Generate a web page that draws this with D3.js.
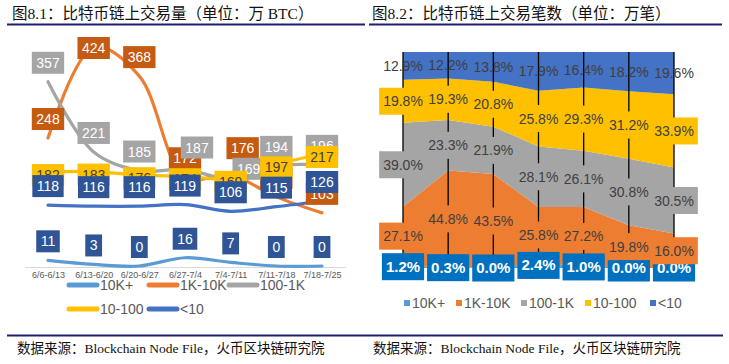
<!DOCTYPE html>
<html>
<head>
<meta charset="utf-8">
<script src="https://cdn.jsdelivr.net/npm/d3@7"></script>
<style>
  body { margin: 0; background: #fff; }
  svg { display: block; }
</style>
</head>
<body>
<div id="chart"></div>
<script>
// weekly on-chain volume (万 BTC) and tx-count share (%)
let weeks = ['6/6-6/13', '6/13-6/20', '6/20-6/27', '6/27-7/4', '7/4-7/11', '7/11-7/18', '7/18-7/25']
let seriesNames = ['10K+', '1K-10K', '100-1K', '10-100', '<10']

let volume10kPlus = [11, 3, 0, 16, 7, 0, 0]
let volume1kTo10k = [248, 424, 368, 172, 176, 134, 103]
let volume100To1k = [357, 221, 185, 187, 169, 194, 196]
let volume10To100 = [182, 183, 176, 174, 169, 197, 217]
let volumeUnder10 = [118, 116, 116, 119, 106, 115, 126]

let share10kPlus = [1.2, 0.3, 0.0, 2.4, 1.0, 0.0, 0.0]
let share1kTo10k = [27.1, 44.8, 43.5, 25.8, 27.2, 19.8, 16.0]
let share100To1k = [39.0, 23.3, 21.9, 28.1, 26.1, 30.8, 30.5]
let share10To100 = [19.8, 19.3, 20.8, 25.8, 29.3, 31.2, 33.9]
let shareUnder10 = [12.9, 12.2, 13.8, 17.9, 16.4, 18.2, 19.6]

let lineColors = {
  '10K+': '#5B9BD5',
  '1K-10K': '#ED7D31',
  '100-1K': '#A5A5A5',
  '10-100': '#FFC000',
  '<10': '#4472C4'
}
let labelFills = {
  '10K+': '#2F5597',
  '1K-10K': '#C55A11',
  '100-1K': '#A5A5A5',
  '10-100': '#FFC000',
  '<10': '#2F5597'
}

let svg = d3
  .select('#chart')
  .append('svg')
  .attr('width', 729)
  .attr('height', 364)

svg.append('rect').attr('width', 729).attr('height', 364).attr('fill', '#fff')

// headers + footers
let titles = [
  { x: 12, text: '图8.1：比特币链上交易量（单位：万 BTC）', x1: 7, x2: 365 },
  { x: 372, text: '图8.2：比特币链上交易笔数（单位：万笔）', x1: 369, x2: 722 }
]
titles.forEach(t => {
  svg
    .append('text')
    .attr('x', t.x)
    .attr('y', 19)
    .attr('font-size', 15.5)
    .attr('font-family', '"Liberation Serif", "Noto Sans CJK SC", serif')
    .attr('fill', '#111')
    .text(t.text)
  svg
    .append('line')
    .attr('x1', t.x1)
    .attr('x2', t.x2)
    .attr('y1', 24.5)
    .attr('y2', 24.5)
    .attr('stroke', '#1F1F6E')
    .attr('stroke-width', 2.2)
})

svg
  .append('line')
  .attr('x1', 7)
  .attr('x2', 723)
  .attr('y1', 335.5)
  .attr('y2', 335.5)
  .attr('stroke', '#1F1F6E')
  .attr('stroke-width', 2.2)

;[17, 373].forEach(x => {
  svg
    .append('text')
    .attr('x', x)
    .attr('y', 353)
    .attr('font-size', 13.5)
    .attr('font-family', '"Liberation Serif", "Noto Sans CJK SC", serif')
    .attr('fill', '#111')
    .text('数据来源：Blockchain Node File，火币区块链研究院')
})

// ---------- left: volume lines ----------
let volumes = [volume10kPlus, volume1kTo10k, volume100To1k, volume10To100, volumeUnder10]
let lineData = seriesNames.map((name, i) => ({
  key: name,
  values: volumes[i].map((v, j) => ({ week: weeks[j], value: v }))
}))

let xPositionScale = d3.scalePoint().domain(weeks).range([48, 322])
let yPositionScale = d3.scaleLinear().domain([0, 500]).range([266, 8])
let plotTop = 37

let line = d3
  .line()
  .x(d => xPositionScale(d.week))
  .y(d => yPositionScale(d.value))
  .curve(d3.curveCatmullRom.alpha(0.5))

let left = svg.append('g')

left
  .append('line')
  .attr('x1', 25)
  .attr('x2', 346)
  .attr('y1', 267.5)
  .attr('y2', 267.5)
  .attr('stroke', '#D9D9D9')

let xAxis = d3.axisBottom(xPositionScale).tickSize(0).tickPadding(4)
left
  .append('g')
  .attr('class', 'axis x-axis')
  .attr('transform', 'translate(0,268)')
  .call(xAxis)
  .call(g => g.select('.domain').remove())
  .selectAll('text')
  .attr('font-size', 9)
  .attr('font-family', '"Liberation Sans", sans-serif')
  .attr('fill', '#595959')

left
  .selectAll('.volume-line')
  .data(lineData)
  .enter()
  .append('path')
  .attr('class', 'volume-line')
  .attr('d', d => line(d.values))
  .attr('fill', 'none')
  .attr('stroke', d => lineColors[d.key])
  .attr('stroke-width', 3.2)
  .attr('stroke-linecap', 'round')

// a few labels were dragged by hand in the original
let labelNudge = { '1K-10K|7/4-7/11': [12, -8], '100-1K|6/27-7/4': [12, -3], '100-1K|7/4-7/11': [18, 9] }

lineData.forEach(s => {
  s.values.forEach(d => {
    let g = left.append('g')
    let px = xPositionScale(d.week)
    let py = yPositionScale(d.value)
    let txt = g
      .append('text')
      .attr('font-size', 14)
      .attr('font-family', '"Liberation Sans", sans-serif')
      .attr('text-anchor', 'middle')
      .attr('fill', s.key === '10-100' ? '#404040' : '#fff')
      .text(d.value)
    let w = txt.node().getComputedTextLength() + 9
    let h = 22
    let cy
    if (s.key === '10-100') {
      cy = py + 3
    } else {
      cy = Math.max(py - 8 - h / 2, plotTop + h / 2)
    }
    let nudge = labelNudge[s.key + '|' + d.week] || [0, 0]
    let cx = px + nudge[0]
    cy = cy + nudge[1]
    g.insert('rect', 'text')
      .attr('x', cx - w / 2)
      .attr('y', cy - h / 2)
      .attr('width', w)
      .attr('height', h)
      .attr('fill', labelFills[s.key])
    txt.attr('x', cx).attr('y', cy + 5)
  })
})

let leftLegend = [
  { key: '10K+', x: 67, y: 285 },
  { key: '1K-10K', x: 147, y: 285 },
  { key: '100-1K', x: 227, y: 285 },
  { key: '10-100', x: 67, y: 309 },
  { key: '<10', x: 147, y: 309 }
]
leftLegend.forEach(d => {
  left
    .append('line')
    .attr('x1', d.x + 2)
    .attr('x2', d.x + 30)
    .attr('y1', d.y)
    .attr('y2', d.y)
    .attr('stroke', lineColors[d.key])
    .attr('stroke-width', 5)
    .attr('stroke-linecap', 'round')
  left
    .append('text')
    .attr('x', d.x + 33)
    .attr('y', d.y + 5)
    .attr('font-size', 14)
    .attr('font-family', '"Liberation Sans", sans-serif')
    .attr('fill', '#595959')
    .text(d.key)
})

// ---------- right: 100% stacked area ----------
let shares = [share10kPlus, share1kTo10k, share100To1k, share10To100, shareUnder10]
let rows = weeks.map((w, j) => {
  let row = { week: w }
  seriesNames.forEach((name, i) => {
    row[name] = shares[i][j]
  })
  return row
})

let stacked = d3
  .stack()
  .keys(seriesNames)
  .offset(d3.stackOffsetExpand)(rows)

let x2 = d3.scalePoint().domain(weeks).range([403, 674])
let y2 = d3.scaleLinear().domain([0, 1]).range([268, 52])

let area = d3
  .area()
  .x(d => x2(d.data.week))
  .y0(d => y2(d[0]))
  .y1(d => y2(d[1]))

let right = svg.append('g')

right
  .append('g')
  .attr('class', 'axis x-axis')
  .attr('transform', 'translate(0,269)')
  .call(d3.axisBottom(x2).tickSize(0).tickPadding(4))
  .call(g => g.select('.domain').remove())
  .selectAll('text')
  .attr('font-size', 9)
  .attr('font-family', '"Liberation Sans", sans-serif')
  .attr('fill', '#595959')

right
  .selectAll('.share-area')
  .data(stacked)
  .enter()
  .append('path')
  .attr('class', 'share-area')
  .attr('d', area)
  .attr('fill', d => lineColors[d.key])

right
  .selectAll('.drop-line')
  .data(weeks)
  .enter()
  .append('line')
  .attr('class', 'drop-line')
  .attr('x1', d => x2(d))
  .attr('x2', d => x2(d))
  .attr('y1', y2(1))
  .attr('y2', y2(0))
  .attr('stroke', '#000')
  .attr('stroke-width', 1.3)

stacked.forEach(layer => {
  layer.forEach((d, j) => {
    let key = layer.key
    let g = right.append('g')
    let cx = x2(d.data.week)
    let cy = y2((d[0] + d[1]) / 2)
    let big = key === '10K+'
    let txt = g
      .append('text')
      .attr('x', cx)
      .attr('y', cy + 5)
      .attr('text-anchor', 'middle')
      .attr('font-size', big ? 15 : 14)
      .attr('font-weight', big ? 'bold' : 'normal')
      .attr('font-family', '"Liberation Sans", sans-serif')
      .attr('fill', big ? '#fff' : '#404040')
      .text(d.data[key].toFixed(1) + '%')
    if (key !== '<10') {
      let w = txt.node().getComputedTextLength() + 8
      g.insert('rect', 'text')
        .attr('x', cx - w / 2)
        .attr('y', cy - 13.5)
        .attr('width', w)
        .attr('height', 27)
        .attr('fill', big ? '#0070C0' : lineColors[key])
    }
  })
})

let rightLegend = [
  { key: '10K+', x: 404 },
  { key: '1K-10K', x: 456 },
  { key: '100-1K', x: 521 },
  { key: '10-100', x: 585 },
  { key: '<10', x: 650 }
]
rightLegend.forEach(d => {
  right
    .append('rect')
    .attr('x', d.x)
    .attr('y', 300)
    .attr('width', 6)
    .attr('height', 6)
    .attr('fill', lineColors[d.key])
  right
    .append('text')
    .attr('x', d.x + 8)
    .attr('y', 308)
    .attr('font-size', 14)
    .attr('font-family', '"Liberation Sans", sans-serif')
    .attr('fill', '#595959')
    .text(d.key)
})
</script>
</body>
</html>
